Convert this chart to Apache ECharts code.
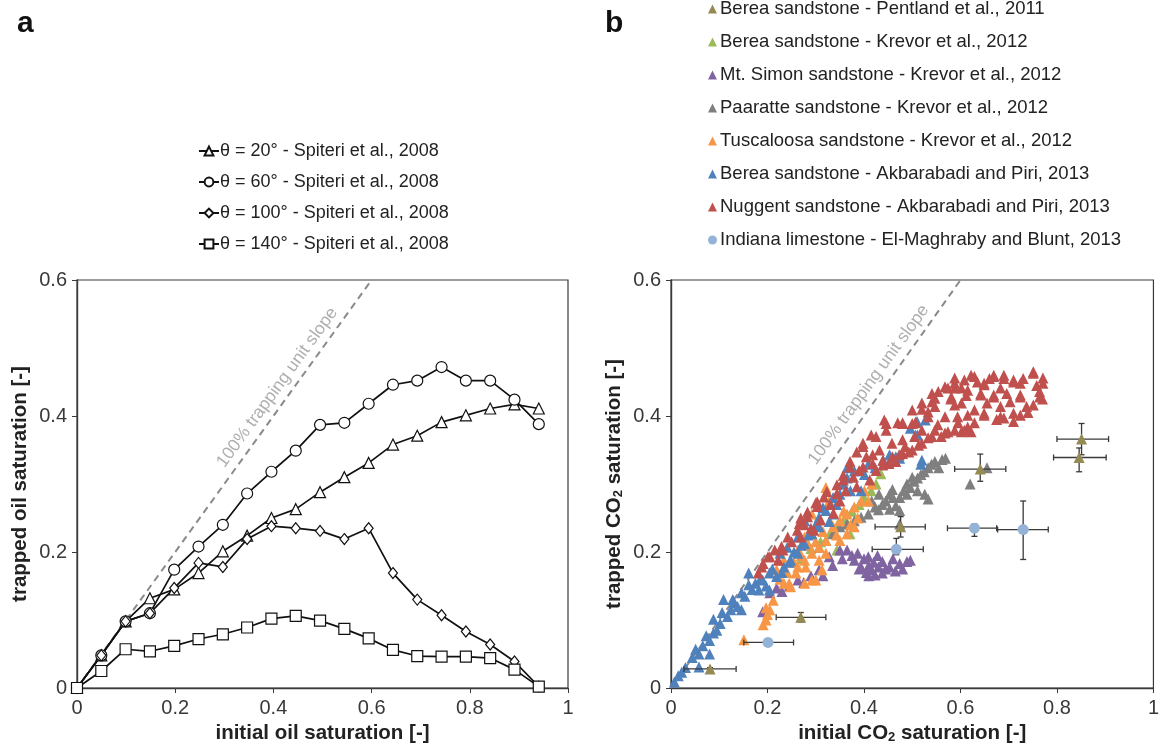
<!DOCTYPE html>
<html>
<head>
<meta charset="utf-8">
<script src="https://cdn.jsdelivr.net/npm/echarts@6/dist/echarts.min.js"></script>
<style>html,body{margin:0;padding:0;background:#fff}#c{width:1162px;height:752px}</style>
</head>
<body>
<div id="c"></div>
<script>
// ---------- Panel a data (Spiteri et al., 2008) ----------
const spiteriX = [0, 0.0495, 0.099, 0.1485, 0.198, 0.2475, 0.297, 0.3465, 0.396, 0.4455, 0.495, 0.5445, 0.594, 0.6435, 0.693, 0.7425, 0.792, 0.8415, 0.891, 0.9405];
const theta20 = [0, 0.048, 0.098, 0.132, 0.145, 0.169, 0.201, 0.224, 0.250, 0.263, 0.288, 0.310, 0.331, 0.358, 0.371, 0.391, 0.401, 0.411, 0.417, 0.411];
const theta60 = [0, 0.048, 0.098, 0.110, 0.174, 0.208, 0.240, 0.286, 0.318, 0.349, 0.387, 0.390, 0.418, 0.446, 0.452, 0.472, 0.452, 0.452, 0.424, 0.388];
const theta100 = [0, 0.048, 0.098, 0.110, 0.147, 0.184, 0.178, 0.219, 0.238, 0.235, 0.231, 0.219, 0.235, 0.169, 0.130, 0.107, 0.083, 0.064, 0.039, 0.002];
const theta140 = [0, 0.025, 0.057, 0.054, 0.062, 0.072, 0.079, 0.089, 0.102, 0.106, 0.099, 0.087, 0.073, 0.056, 0.047, 0.046, 0.046, 0.044, 0.027, 0.002];
const unitSlope = [[0, 0], [0.6, 0.6]];
const slopeLabelA = [[0.408, 0.442]];
const slopeLabelB = [[0.41, 0.446]];

// ---------- Panel b data ----------
const pentland = [[0.081,0.028],[0.269,0.104],[0.476,0.237],[0.641,0.322],[0.851,0.366],[0.846,0.339]];
// [x, y, xLow, xHigh, yLow, yHigh]
const pentlandErr = [
  [0.081,0.028,0.027,0.135,0.026,0.030],
  [0.269,0.104,0.218,0.321,0.097,0.111],
  [0.476,0.237,0.423,0.527,0.222,0.252],
  [0.641,0.322,0.588,0.694,0.304,0.344],
  [0.851,0.366,0.800,0.907,0.343,0.389],
  [0.846,0.339,0.793,0.902,0.318,0.353]
];
const bereaKrevor = [[0.27,0.19],[0.29,0.205],[0.31,0.215],[0.33,0.228],[0.345,0.24],[0.36,0.25],[0.375,0.26],[0.39,0.27],[0.40,0.28],[0.415,0.29],[0.425,0.30],[0.435,0.315],[0.344,0.203],[0.371,0.227]];
const mtSimon = [[0.19,0.112],[0.205,0.14],[0.219,0.147],[0.23,0.142],[0.245,0.15],[0.263,0.159],[0.275,0.155],[0.29,0.165],[0.307,0.174],[0.315,0.165],[0.328,0.193],[0.335,0.18],[0.35,0.203],[0.355,0.19],[0.365,0.203],[0.375,0.195],[0.38,0.188],[0.387,0.198],[0.39,0.175],[0.394,0.178],[0.4,0.19],[0.405,0.17],[0.409,0.193],[0.41,0.18],[0.416,0.174],[0.42,0.185],[0.423,0.166],[0.43,0.178],[0.438,0.169],[0.438,0.186],[0.445,0.175],[0.453,0.178],[0.46,0.19],[0.465,0.172],[0.474,0.183],[0.48,0.175],[0.489,0.186],[0.496,0.188],[0.428,0.195],[0.41,0.165]];
const paaratte = [[0.307,0.207],[0.321,0.217],[0.336,0.227],[0.35,0.237],[0.365,0.241],[0.38,0.246],[0.394,0.251],[0.409,0.256],[0.416,0.275],[0.423,0.266],[0.431,0.285],[0.438,0.27],[0.445,0.275],[0.453,0.285],[0.453,0.263],[0.46,0.28],[0.474,0.28],[0.474,0.261],[0.474,0.241],[0.482,0.29],[0.489,0.3],[0.489,0.285],[0.496,0.295],[0.504,0.304],[0.511,0.309],[0.511,0.29],[0.518,0.314],[0.526,0.285],[0.533,0.324],[0.533,0.278],[0.54,0.329],[0.547,0.333],[0.555,0.324],[0.562,0.336],[0.569,0.338],[0.62,0.3],[0.655,0.324],[0.466,0.268],[0.5,0.31],[0.525,0.318],[0.43,0.262],[0.459,0.292]];
const tuscaloosa = [[0.151,0.071],[0.191,0.093],[0.197,0.1],[0.2,0.108],[0.197,0.118],[0.205,0.115],[0.212,0.129],[0.219,0.174],[0.226,0.16],[0.234,0.154],[0.234,0.188],[0.241,0.17],[0.245,0.154],[0.248,0.149],[0.255,0.185],[0.259,0.169],[0.263,0.178],[0.263,0.203],[0.27,0.195],[0.277,0.188],[0.279,0.178],[0.277,0.154],[0.277,0.222],[0.285,0.21],[0.292,0.198],[0.292,0.159],[0.292,0.256],[0.3,0.215],[0.3,0.159],[0.307,0.207],[0.307,0.188],[0.313,0.174],[0.315,0.23],[0.321,0.217],[0.321,0.198],[0.321,0.295],[0.328,0.275],[0.33,0.245],[0.336,0.237],[0.343,0.225],[0.35,0.246],[0.35,0.217],[0.358,0.26],[0.365,0.256],[0.365,0.227],[0.372,0.24],[0.38,0.266],[0.38,0.237],[0.387,0.25],[0.394,0.275],[0.401,0.29],[0.409,0.275],[0.416,0.3]];
const bereaAkbar = [[0.007,0.009],[0.015,0.018],[0.022,0.023],[0.03,0.03],[0.044,0.045],[0.051,0.057],[0.058,0.031],[0.058,0.05],[0.066,0.062],[0.073,0.077],[0.08,0.05],[0.08,0.07],[0.088,0.081],[0.088,0.101],[0.095,0.085],[0.102,0.095],[0.106,0.111],[0.109,0.13],[0.117,0.105],[0.124,0.115],[0.128,0.13],[0.131,0.125],[0.138,0.12],[0.146,0.115],[0.146,0.14],[0.153,0.135],[0.161,0.152],[0.161,0.169],[0.168,0.145],[0.175,0.154],[0.182,0.144],[0.185,0.16],[0.19,0.159],[0.197,0.15],[0.204,0.169],[0.204,0.144],[0.21,0.175],[0.219,0.164],[0.226,0.198],[0.23,0.17],[0.234,0.178],[0.241,0.207],[0.245,0.185],[0.248,0.188],[0.255,0.2],[0.263,0.222],[0.263,0.198],[0.27,0.21],[0.277,0.212],[0.277,0.246],[0.285,0.225],[0.292,0.227],[0.3,0.24],[0.307,0.237],[0.307,0.251],[0.315,0.265],[0.321,0.261],[0.328,0.245],[0.336,0.28],[0.336,0.256],[0.343,0.27],[0.35,0.285],[0.358,0.3],[0.365,0.309],[0.365,0.324],[0.372,0.29],[0.38,0.319],[0.394,0.29],[0.401,0.314],[0.409,0.329],[0.423,0.324],[0.44,0.335],[0.453,0.333],[0.453,0.343],[0.474,0.338],[0.496,0.382],[0.511,0.372],[0.518,0.329],[0.51,0.392],[0.527,0.394],[0.507,0.372],[0.466,0.34],[0.52,0.335]];
const nuggent = [[0.181,0.169],[0.188,0.178],[0.191,0.183],[0.201,0.193],[0.205,0.193],[0.215,0.203],[0.222,0.188],[0.229,0.208],[0.232,0.203],[0.242,0.222],[0.25,0.215],[0.262,0.232],[0.266,0.242],[0.269,0.25],[0.269,0.222],[0.276,0.24],[0.283,0.259],[0.283,0.252],[0.29,0.235],[0.296,0.232],[0.3,0.272],[0.303,0.274],[0.303,0.267],[0.31,0.247],[0.317,0.281],[0.323,0.289],[0.33,0.27],[0.337,0.257],[0.344,0.299],[0.344,0.286],[0.35,0.275],[0.357,0.313],[0.357,0.306],[0.362,0.29],[0.371,0.333],[0.371,0.325],[0.378,0.31],[0.385,0.347],[0.385,0.296],[0.39,0.32],[0.398,0.36],[0.398,0.355],[0.398,0.325],[0.405,0.34],[0.412,0.306],[0.415,0.372],[0.418,0.343],[0.425,0.37],[0.425,0.32],[0.432,0.35],[0.439,0.328],[0.442,0.394],[0.446,0.379],[0.452,0.33],[0.458,0.36],[0.466,0.333],[0.47,0.39],[0.473,0.343],[0.48,0.389],[0.485,0.355],[0.493,0.347],[0.5,0.389],[0.505,0.37],[0.507,0.391],[0.513,0.357],[0.52,0.41],[0.533,0.406],[0.533,0.368],[0.541,0.421],[0.547,0.426],[0.553,0.387],[0.554,0.436],[0.56,0.37],[0.574,0.441],[0.574,0.377],[0.58,0.425],[0.588,0.416],[0.588,0.456],[0.588,0.441],[0.595,0.39],[0.602,0.441],[0.602,0.377],[0.612,0.43],[0.615,0.401],[0.622,0.46],[0.622,0.377],[0.635,0.45],[0.642,0.431],[0.649,0.446],[0.649,0.401],[0.66,0.455],[0.669,0.46],[0.669,0.431],[0.675,0.395],[0.683,0.441],[0.69,0.397],[0.69,0.455],[0.703,0.421],[0.71,0.45],[0.71,0.392],[0.724,0.401],[0.724,0.431],[0.73,0.455],[0.74,0.405],[0.751,0.465],[0.751,0.416],[0.758,0.445],[0.764,0.436],[0.771,0.456],[0.77,0.425],
  [0.629,0.458],[0.669,0.458],[0.69,0.46],[0.71,0.453],[0.751,0.463],[0.771,0.448],[0.764,0.428],[0.737,0.414],[0.71,0.404],[0.683,0.399],[0.649,0.404],[0.629,0.409],[0.602,0.419],[0.581,0.428],[0.568,0.443],[0.588,0.448],[0.615,0.438],[0.642,0.433],[0.669,0.428],[0.696,0.433],[0.724,0.428],[0.541,0.433],[0.547,0.414],[0.52,0.419],[0.5,0.409],[0.48,0.39],[0.507,0.39],[0.533,0.399],[0.568,0.399],[0.594,0.399],[0.615,0.384],[0.588,0.379],[0.568,0.375],[0.541,0.37],[0.52,0.36],[0.5,0.35],[0.48,0.345],[0.459,0.34],[0.439,0.335],[0.418,0.33],[0.446,0.389],[0.48,0.365],[0.52,0.379],[0.547,0.379],[0.608,0.379],[0.629,0.39],[0.655,0.419],[0.683,0.414],[0.724,0.448],[0.649,0.448],[0.608,0.453]];
const indiana = [[0.201,0.067],[0.467,0.204],[0.629,0.235],[0.73,0.233]];
const indianaErr = [
  [0.201,0.067,0.151,0.254,0.067,0.067],
  [0.467,0.204,0.417,0.523,0.196,0.220],
  [0.629,0.235,0.573,0.675,0.223,0.241],
  [0.730,0.233,0.677,0.782,0.189,0.275]
];

const namesA = ['θ = 20° - Spiteri et al., 2008','θ = 60° - Spiteri et al., 2008','θ = 100° - Spiteri et al., 2008','θ = 140° - Spiteri et al., 2008'];
const namesB = ['Berea sandstone - Pentland et al., 2011','Berea sandstone - Krevor et al., 2012','Mt. Simon sandstone - Krevor et al., 2012','Paaratte sandstone - Krevor et al., 2012','Tuscaloosa sandstone - Krevor et al., 2012','Berea sandstone - Akbarabadi and Piri, 2013','Nuggent sandstone - Akbarabadi and Piri, 2013','Indiana limestone - El-Maghraby and Blunt, 2013'];

const FONT = 'Liberation Sans, Arial, sans-serif';
const zip = (xs, ys) => xs.map((x, i) => [x, ys[i]]);

function errRender(params, api) {
  const x = api.value(0), y = api.value(1);
  const l = api.coord([api.value(2), y]), r = api.coord([api.value(3), y]);
  const b = api.coord([x, api.value(4)]), t = api.coord([x, api.value(5)]);
  const st = { stroke: '#3a3a3a', lineWidth: 1.3 };
  const cap = 3;
  const ch = [
    { type: 'line', shape: { x1: l[0], y1: l[1], x2: r[0], y2: r[1] }, style: st },
    { type: 'line', shape: { x1: l[0], y1: l[1] - cap, x2: l[0], y2: l[1] + cap }, style: st },
    { type: 'line', shape: { x1: r[0], y1: r[1] - cap, x2: r[0], y2: r[1] + cap }, style: st }
  ];
  if (Math.abs(b[1] - t[1]) > 1) {
    ch.push({ type: 'line', shape: { x1: b[0], y1: b[1], x2: t[0], y2: t[1] }, style: st });
    ch.push({ type: 'line', shape: { x1: b[0] - cap, y1: b[1], x2: b[0] + cap, y2: b[1] }, style: st });
    ch.push({ type: 'line', shape: { x1: t[0] - cap, y1: t[1], x2: t[0] + cap, y2: t[1] }, style: st });
  }
  return { type: 'group', children: ch };
}

function lineSeries(name, ys, symbol, size) {
  return {
    name, type: 'line', xAxisIndex: 0, yAxisIndex: 0, data: zip(spiteriX, ys),
    symbol, symbolSize: size, showAllSymbol: true,
    lineStyle: { color: '#111', width: 1.7 },
    itemStyle: { color: '#fff', borderColor: '#111', borderWidth: 1.2 },
    z: 3
  };
}
function scat(name, data, color, symbol, size, z) {
  return {
    name, type: 'scatter', xAxisIndex: 1, yAxisIndex: 1, data,
    symbol, symbolSize: size, itemStyle: { color, opacity: 1 }, z: z || 2
  };
}
function slopeText(idx, pos) {
  return {
    type: 'scatter', xAxisIndex: idx, yAxisIndex: idx, data: pos, symbolSize: 0, silent: true,
    label: { show: true, position: 'inside', formatter: '100% trapping unit slope', rotate: 54,
      color: '#9a9a9a', fontSize: 17.5, fontFamily: FONT }, z: 5
  };
}
function dashed(idx) {
  return {
    type: 'line', xAxisIndex: idx, yAxisIndex: idx, data: unitSlope, symbol: 'none', silent: true,
    lineStyle: { color: '#8a8a8a', width: 2, type: [7, 5] }, z: 1
  };
}

const axisCommon = {
  min: 0, axisLine: { show: true, onZero: false, lineStyle: { color: '#3a3a3a', width: 1.4 } },
  axisTick: { show: true, inside: false, length: 5, lineStyle: { color: '#3a3a3a' } },
  splitLine: { show: false },
  axisLabel: { color: '#383838', fontSize: 20, fontFamily: FONT, margin: 10 },
  nameLocation: 'middle',
  nameTextStyle: { color: '#222', fontSize: 20.5, fontWeight: 'bold', fontFamily: FONT,
    rich: { s: { fontSize: 13, fontWeight: 'bold', fontFamily: FONT, color: '#222', verticalAlign: 'bottom', padding: [9, 0, 0, 0] } } }
};
const xAx = (gi, name) => Object.assign({}, axisCommon, { type: 'value', gridIndex: gi, max: 1, interval: 0.2, name, nameGap: 32 });
const yAx = (gi, name) => Object.assign({}, axisCommon, { type: 'value', gridIndex: gi, max: 0.6, interval: 0.2, name, nameGap: 46 });

const chart = echarts.init(document.getElementById('c'), null, { renderer: 'canvas' });
chart.setOption({
  backgroundColor: '#fff',
  animation: false,
  title: [
    { text: 'a', left: 12, top: 4, textStyle: { fontSize: 30, fontWeight: 'bold', color: '#111', fontFamily: FONT } },
    { text: 'b', left: 600, top: 4, textStyle: { fontSize: 30, fontWeight: 'bold', color: '#111', fontFamily: FONT } }
  ],
  grid: [
    { left: 77, top: 280, width: 491, height: 408, show: true, borderColor: '#3a3a3a', borderWidth: 1.2, containLabel: false },
    { left: 671, top: 280, width: 492, height: 408, show: true, borderColor: '#3a3a3a', borderWidth: 1.2, containLabel: false }
  ],
  legend: [
    { data: namesA, orient: 'vertical', left: 193, top: 136, itemWidth: 20, itemHeight: 11, itemGap: 11,
      textStyle: { fontSize: 18, color: '#222', fontFamily: FONT, lineHeight: 20, padding: [0, 0, 0, -4] }, selectedMode: false },
    { data: namesB, orient: 'vertical', left: 703, top: -6, itemWidth: 9, itemHeight: 9, itemGap: 13,
      textStyle: { fontSize: 18.5, color: '#222', fontFamily: FONT, lineHeight: 20, padding: [0, 0, 0, -2] }, selectedMode: false }
  ],
  xAxis: [xAx(0, 'initial oil saturation [-]'), xAx(1, 'initial CO{s|2} saturation [-]')],
  yAxis: [yAx(0, 'trapped oil saturation [-]'), yAx(1, 'trapped CO{s|2} saturation [-]')],
  series: [
    dashed(0), slopeText(0, slopeLabelA),
    lineSeries(namesA[0], theta20, 'triangle', 11),
    lineSeries(namesA[1], theta60, 'circle', 11),
    lineSeries(namesA[2], theta100, 'diamond', [9, 11]),
    lineSeries(namesA[3], theta140, 'rect', 11),
    dashed(1), slopeText(1, slopeLabelB),
    scat(namesB[1], bereaKrevor, '#9BBB59', 'triangle', 11),
    scat(namesB[2], mtSimon, '#8064A2', 'triangle', 11),
    scat(namesB[3], paaratte, '#7F7F7F', 'triangle', 11),
    scat(namesB[4], tuscaloosa, '#F79646', 'triangle', 11),
    scat(namesB[5], bereaAkbar, '#4F81BD', 'triangle', 11),
    scat(namesB[6], nuggent, '#C0504D', 'triangle', 11),
    { type: 'custom', xAxisIndex: 1, yAxisIndex: 1, data: pentlandErr, renderItem: errRender, encode: { x: 0, y: 1 }, z: 6, silent: true },
    { type: 'custom', xAxisIndex: 1, yAxisIndex: 1, data: indianaErr, renderItem: errRender, encode: { x: 0, y: 1 }, z: 6, silent: true },
    scat(namesB[0], pentland, '#948A54', 'triangle', 11, 7),
    scat(namesB[7], indiana, '#95B3D7', 'circle', 11, 7)
  ]
});
</script>
</body>
</html>
